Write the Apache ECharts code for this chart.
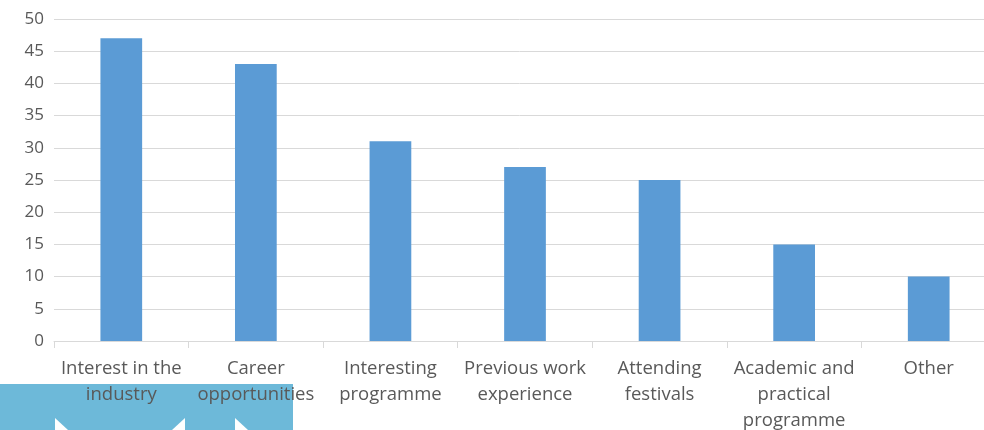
<!DOCTYPE html>
<html>
<head>
<meta charset="utf-8">
<script src="https://cdn.jsdelivr.net/npm/echarts@6/dist/echarts.min.js"></script>
<style>
  html, body { margin: 0; padding: 0; background: #fff; }
  #chart { width: 984px; height: 430px; }
</style>
</head>
<body>
<div id="chart"></div>
<script>
// Reasons for choosing the programme (number of respondents)
const categories = [
  'Interest in the\nindustry',
  'Career\nopportunities',
  'Interesting\nprogramme',
  'Previous work\nexperience',
  'Attending\nfestivals',
  'Academic and\npractical\nprogramme',
  'Other'
];
const responses = [47, 43, 31, 27, 25, 15, 10];
const yTicks = { min: 0, max: 50, interval: 5 };

const chart = echarts.init(document.getElementById('chart'), null, { renderer: 'canvas' });

chart.setOption({
  animation: false,
  backgroundColor: '#ffffff',
  grid: {
    left: 54, top: 19, width: 942, height: 322,
    containLabel: false,
    outerBoundsMode: 'none'
  },
  xAxis: {
    type: 'category',
    data: categories,
    axisLine: { show: true, lineStyle: { color: '#d9d9d9', width: 1 } },
    axisTick: { show: true, length: 7, alignWithLabel: false, lineStyle: { color: '#d9d9d9' } },
    axisLabel: {
      interval: 0,
      color: '#595959',
      fontFamily: 'Open Sans',
      fontSize: 18.5,
      lineHeight: 26,
      margin: 15
    }
  },
  yAxis: {
    type: 'value',
    min: yTicks.min,
    max: yTicks.max,
    interval: yTicks.interval,
    axisLine: { show: false },
    axisTick: { show: false },
    splitLine: { lineStyle: { color: '#d9d9d9', width: 1 } },
    axisLabel: {
      color: '#595959',
      fontFamily: 'Open Sans',
      fontSize: 17,
      margin: 10
    }
  },
  series: [{
    type: 'bar',
    data: responses,
    barWidth: '31%',
    itemStyle: { color: '#5b9bd5' },
    z: 2
  }],
  graphic: [
    {
      type: 'rect',
      z: -1,
      shape: { x: 0, y: 384, width: 293, height: 46 },
      style: { fill: '#6db9d9' }
    },
    {
      type: 'polygon',
      z: -1,
      shape: { points: [[55, 418], [68, 430], [55, 430]] },
      style: { fill: '#ffffff' }
    },
    {
      type: 'polygon',
      z: -1,
      shape: { points: [[185, 418], [185, 430], [172, 430]] },
      style: { fill: '#ffffff' }
    },
    {
      type: 'polygon',
      z: -1,
      shape: { points: [[235, 418], [248, 430], [235, 430]] },
      style: { fill: '#ffffff' }
    }
  ]
});
</script>
</body>
</html>
